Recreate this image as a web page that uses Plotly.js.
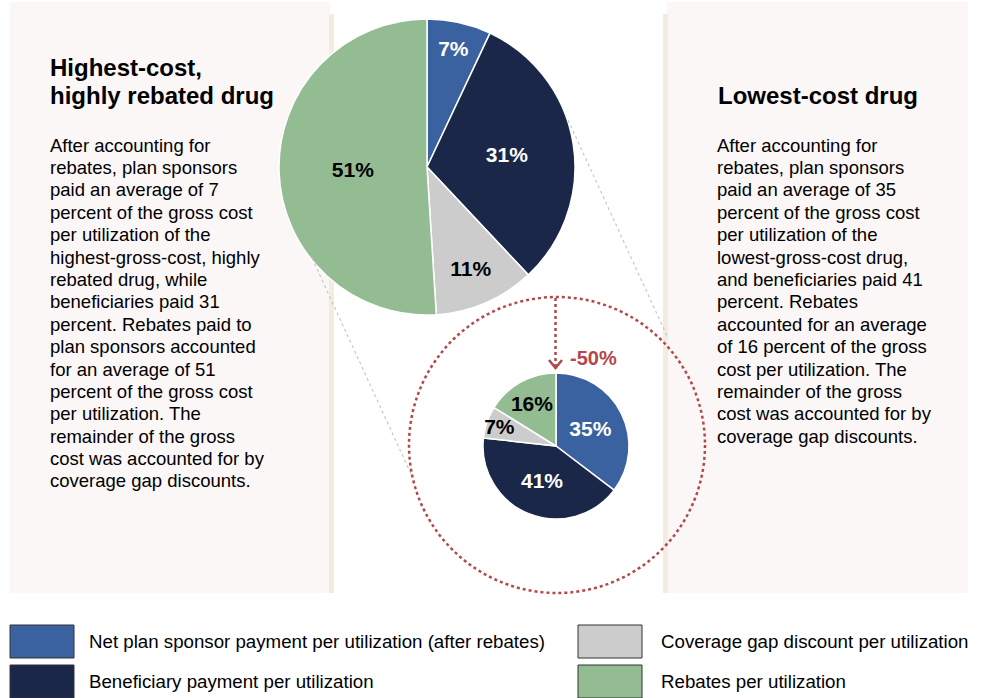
<!DOCTYPE html>
<html>
<head>
<meta charset="utf-8">
<script src="https://cdn.plot.ly/plotly-3.0.1.min.js"></script>
<style>
html,body{margin:0;padding:0;background:#fff;}
#chart{width:987px;height:698px;}
</style>
</head>
<body>
<div id="chart"></div>
<script>
// ---- data ----
var categories = [
  "Net plan sponsor payment per utilization (after rebates)",
  "Beneficiary payment per utilization",
  "Coverage gap discount per utilization",
  "Rebates per utilization"
];
var highestCostValues = [7, 31, 11, 51];
var lowestCostValues = [35, 41, 7, 16];
var changeLabel = "-50%";
var leftTitle = ["Highest-cost,", "highly rebated drug"];
var leftBody = [
  "After accounting for",
  "rebates, plan sponsors",
  "paid an average of 7",
  "percent of the gross cost",
  "per utilization of the",
  "highest-gross-cost, highly",
  "rebated drug, while",
  "beneficiaries paid 31",
  "percent. Rebates paid to",
  "plan sponsors accounted",
  "for an average of 51",
  "percent of the gross cost",
  "per utilization. The",
  "remainder of the gross",
  "cost was accounted for by",
  "coverage gap discounts."
];
var rightTitle = "Lowest-cost drug";
var rightBody = [
  "After accounting for",
  "rebates, plan sponsors",
  "paid an average of 35",
  "percent of the gross cost",
  "per utilization of the",
  "lowest-gross-cost drug,",
  "and beneficiaries paid 41",
  "percent. Rebates",
  "accounted for an average",
  "of 16 percent of the gross",
  "cost per utilization. The",
  "remainder of the gross",
  "cost was accounted for by",
  "coverage gap discounts."
];

// ---- styles ----
var colors = ["#3A62A0", "#1A2748", "#CCCCCC", "#93BC93"];
var textColors = ["#ffffff", "#ffffff", "#000000", "#000000"];
var red = "#B5474B";
var W = 987, H = 698;
function px(x){ return x / W; }
function py(y){ return 1 - y / H; }
var FONT = "Liberation Sans, Arial, sans-serif";

function pct(arr){ return arr.map(function(v){ return v + "%"; }); }

var bigC = [427, 167], bigR = 148;
var smallC = [556, 446], smallR = 73;

function pieTrace(values, c, r){
  return {
    type: "pie",
    values: values,
    labels: categories,
    text: pct(values),
    textinfo: "text",
    textposition: "inside",
    insidetextorientation: "horizontal",
    sort: false,
    direction: "clockwise",
    rotation: 0,
    marker: {colors: colors, line: {color: "#ffffff", width: 1.5}},
    insidetextfont: {family: FONT, size: 21, color: textColors, weight: "bold"},
    domain: {x: [px(c[0]-r), px(c[0]+r)], y: [py(c[1]+r), py(c[1]-r)]},
    showlegend: false,
    hoverinfo: "label+text"
  };
}
var traces = [pieTrace(highestCostValues, bigC, bigR), pieTrace(lowestCostValues, smallC, smallR)];

var shapes = [
  // left panel
  {type:"rect", xref:"paper", yref:"paper", x0:px(10), x1:px(330), y0:py(593), y1:py(2), fillcolor:"#FBF7F6", line:{width:0}, layer:"below"},
  {type:"rect", xref:"paper", yref:"paper", x0:px(329), x1:px(334), y0:py(593), y1:py(14), fillcolor:"#F3ECDF", line:{width:0}, layer:"below"},
  // right panel
  {type:"rect", xref:"paper", yref:"paper", x0:px(667), x1:px(968), y0:py(593), y1:py(2), fillcolor:"#FBF7F6", line:{width:0}, layer:"below"},
  {type:"rect", xref:"paper", yref:"paper", x0:px(663), x1:px(668), y0:py(593), y1:py(14), fillcolor:"#F3ECDF", line:{width:0}, layer:"below"},
  // connector lines
  {type:"line", xref:"paper", yref:"paper", x0:px(312), y0:py(258), x1:px(412), y1:py(476), line:{color:"#C8C8C8", width:1.2, dash:"dot"}},
  {type:"line", xref:"paper", yref:"paper", x0:px(568), y0:py(120), x1:px(668), y1:py(338), line:{color:"#C8C8C8", width:1.2, dash:"dot"}},
  // dotted zoom circle
  {type:"circle", xref:"paper", yref:"paper", x0:px(409), x1:px(705), y0:py(593), y1:py(297), line:{color:red, width:2.5, dash:"dot"}},
  // arrow
  {type:"line", xref:"paper", yref:"paper", x0:px(555.5), y0:py(298), x1:px(555.5), y1:py(366), line:{color:red, width:2.5, dash:"dot"}},
  {type:"path", xref:"paper", yref:"paper",
   path:"M " + px(549) + " " + py(360) + " L " + px(555.5) + " " + py(368) + " L " + px(562) + " " + py(360),
   line:{color:red, width:2.5}}
];

var annotations = [];
function addText(txt, x, y, size, opts){
  opts = opts || {};
  annotations.push({xref:"paper", yref:"paper", x:px(x), y:py(y), xanchor:opts.xanchor || "left", yanchor:"middle",
    showarrow:false, borderpad:0, text: opts.bold ? "<b>" + txt + "</b>" : txt,
    font:{family:FONT, size:size, color:opts.color || "#000"}});
}
leftTitle.forEach(function(t, i){ addText(t, 49, 67 + i * 29, 24, {bold:true}); });
leftBody.forEach(function(t, i){ addText(t, 49, 145 + i * 22.4, 18.5); });
addText(rightTitle, 818, 96, 24, {bold:true, xanchor:"center"});
rightBody.forEach(function(t, i){ addText(t, 716, 145 + i * 22.4, 18.5); });
addText(changeLabel, 569, 358, 20, {bold:true, color:red});

// legend built from categories/colors
var legPos = [[10, 625, 78], [10, 665, 78], [578, 625, 82], [578, 665, 82]];
[0, 1, 2, 3].forEach(function(i){
  var p = legPos[i];
  shapes.push({type:"rect", xref:"paper", yref:"paper", x0:px(p[0]), x1:px(p[0]+64), y0:py(p[1]+33), y1:py(p[1]),
    fillcolor:colors[i], line:{color:"#333333", width:1}});
  addText(categories[i], p[0] + p[2], p[1] + 16.5, 18.7);
});

var layout = {
  width: W, height: H,
  margin: {l:0, r:0, t:0, b:0},
  paper_bgcolor: "#ffffff",
  plot_bgcolor: "#ffffff",
  showlegend: false,
  uniformtext: {mode: "show", minsize: 21},
  shapes: shapes,
  annotations: annotations
};

Plotly.newPlot("chart", traces, layout, {displayModeBar:false, staticPlot:true});
</script>
</body>
</html>
